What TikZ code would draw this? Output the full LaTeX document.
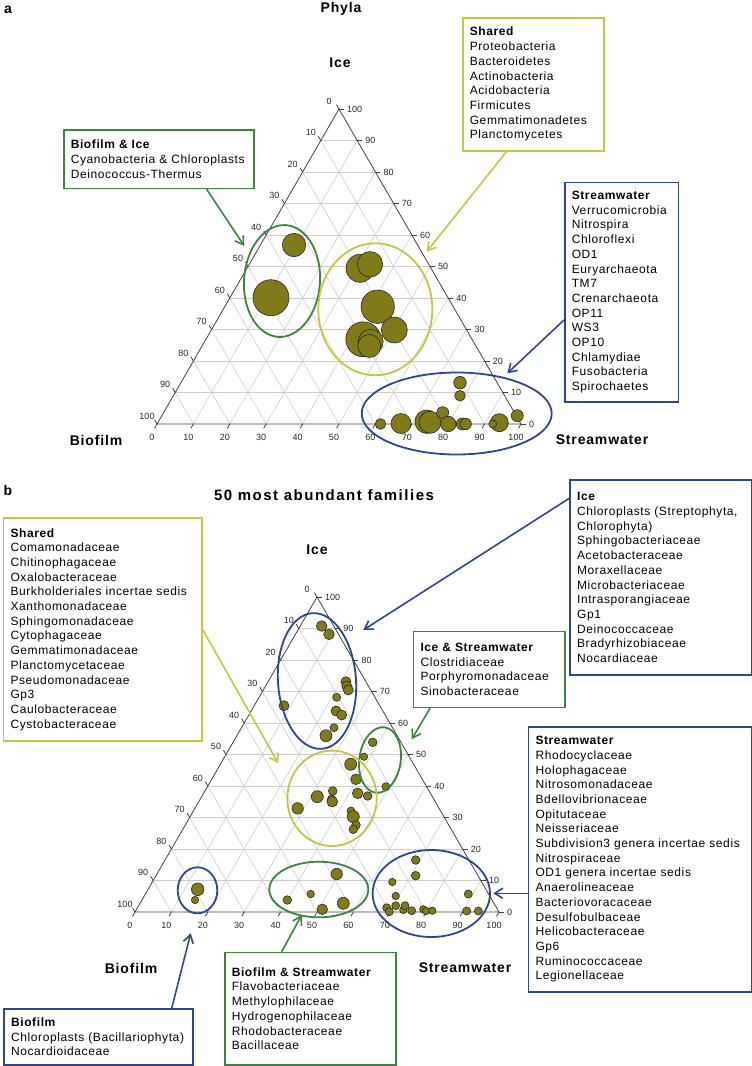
\documentclass[tikz,border=0pt]{standalone}
\usepackage{fontspec}
\setmainfont{Liberation Sans}
\newfontfamily\boxfont[LetterSpace=5]{Liberation Sans}
\newfontfamily\capfont[LetterSpace=6]{Liberation Sans}
\usetikzlibrary{arrows.meta}
\hyphenpenalty=10000

\definecolor{grpgreen}{RGB}{62,132,62}
\definecolor{grpyellow}{RGB}{196,196,70}
\definecolor{grpblue}{RGB}{44,72,140}
\definecolor{bubblefill}{RGB}{128,122,24}

\tikzset{
  gridline/.style={gray!40, line width=0.6pt},
  sideline/.style={black!75, line width=0.8pt},
  ticklbl/.style={font=\fontsize{9}{10}\selectfont, text=black!85, inner sep=0pt},
  axislbl/.style={font=\capfont\bfseries\fontsize{14}{16}\selectfont, inner sep=0pt},
  bubble/.style={draw=black!85, fill=bubblefill, line width=0.6pt},
  grp/.style={draw=#1, line width=1.8pt},
  grpbox/.style={draw=#1, line width=1.6pt, fill=white, align=left, anchor=north west,
    inner xsep=7pt, inner ysep=0pt, font=\boxfont\fontsize{12}{14.7}\selectfont},
  grparrow/.style={draw=#1, line width=1.6pt, -{Straight Barb[length=8pt,width=10pt]}}
}

\begin{document}
\begin{tikzpicture}[x=1pt,y=-1pt]
\useasboundingbox (0,0) rectangle (752,1066);

% titles
\node[axislbl] (pa) at (8,10) {a};
\node[axislbl] (phyla) at (341,9) {Phyla};
\node[axislbl] (labIceA) at (340,63) {Ice};
\node[axislbl] (labBioA) at (96,440) {Biofilm};
\node[axislbl] (labStrA) at (602,440) {Streamwater};
\node[axislbl] (pb) at (8,490) {b};
\node[axislbl, font=\capfont\bfseries\fontsize{15}{18}\selectfont\addfontfeature{LetterSpace=10}] (fam) at (324,495) {50 most abundant families};
\node[axislbl] (labIceB) at (317,550) {Ice};
\node[axislbl] (labBioB) at (131,968) {Biofilm};
\node[axislbl] (labStrB) at (465,968) {Streamwater};

% ternary grids
\foreach \ox/\oy in {157/424, 135/912} {
\begin{scope}[shift={(\ox,\oy)}, x={(3.64pt,0pt)}, y={(1.82pt,3.15pt)}]
  \foreach \k in {10,20,...,90} {
    \draw[gridline] (\k,0) -- (\k,{100-\k});
    \draw[gridline] (0,\k) -- ({100-\k},\k);
    \draw[gridline] ({100-\k},0) -- (0,{100-\k});
  }
  \draw[sideline] (0,0) -- (100,0) -- (0,100) -- cycle;
  \foreach \k in {0,10,...,100} {
    \draw[sideline] (\k,0) -- ++(-2.5pt,-4.3pt);
    \node[ticklbl] at ([shift={(-5pt,-13pt)}]\k,0) {\k};
    \draw[sideline] (0,{100-\k}) -- ++(-2.5pt,4.3pt);
    \node[ticklbl] at ([shift={(-10pt,8pt)}]0,{100-\k}) {\k};
    \draw[sideline] ({100-\k},\k) -- ++(5pt,0pt);
    \node[ticklbl, anchor=west] at ([shift={(8pt,0pt)}]{100-\k},\k) {\k};
  }
\end{scope}
}

% phyla bubbles
\foreach \x/\y/\r in {294/245/11.7, 271/297.7/18,
  360/268.3/14, 370/264.3/12.7, 377.7/306.7/16.7, 363.3/339.3/17.5, 370.7/341.7/12.5, 369.3/346/11.5, 394.3/330/13,
  380.5/424/5.3, 401/423.5/10, 426.7/421.7/11.7, 430/422.3/11, 442.7/412.7/6, 448.3/424/7.7, 462.3/424/6, 465.7/424/5.7,
  460/382.7/6.3, 460/395.7/5.3, 499.3/422.7/9, 492.7/424/4, 517.3/415.7/6}
  \draw[bubble] (\x,\y) circle[radius={\r*1pt}];

% family bubbles
\foreach \x/\y/\r in {321.7/626/5.3, 329/634.3/5.3, 346/681.7/5, 346.7/686/5, 348.3/690/5, 336.7/697.3/4, 336/711/5,
  341.7/715/5, 334/727.7/4, 326/735.7/6, 284/705.7/5,
  372.7/742.3/4.3, 364/756.7/3.7, 386/786.7/4,
  350.7/764.3/6, 356/779.3/5.3, 357.7/793.3/5.3, 367.7/796/4.3, 317.3/796.7/6, 332.7/791/4.3, 331.7/799.3/4.3,
  332.3/801.7/5.3, 297.7/808.3/5.7, 351/811/4, 353.3/816.7/6, 356/825/4.3, 353.3/829.3/4.3,
  197.7/889.3/6.3, 195/900/3.7,
  287.3/900/4.3, 310.7/894/3.7, 336.7/874/5.7, 322.3/909.3/5.3, 343.3/903.3/6,
  415.7/860/4.3, 415.7/875.7/4.3, 392.3/882/3.7, 395.7/896/3.7, 386.7/907.7/4, 389.3/911.7/4, 395.7/905.7/4,
  403.3/910/3.7, 405/905.7/4, 411.7/910.7/4, 423.3/909.3/3.7, 426/911/3.7, 432.3/910.7/3.7,
  468.3/894/4, 466.7/911/4, 478.3/911/4}
  \draw[bubble] (\x,\y) circle[radius={\r*1pt}];

% group outlines
\draw[grp=grpgreen, rotate around={-4:(282,281)}] (282,281) ellipse[x radius=38pt, y radius=56pt];
\draw[grp=grpyellow] (375.3,309.3) ellipse[x radius=57pt, y radius=66pt];
\draw[grp=grpblue] (456.7,413.5) ellipse[x radius=95pt, y radius=41pt];
\draw[grp=grpblue, rotate around={4:(317,681)}] (317,681) ellipse[x radius=39pt, y radius=68pt];
\draw[grp=grpgreen, rotate around={-8:(380,760)}] (380,760) ellipse[x radius=20.7pt, y radius=33pt];
\draw[grp=grpyellow] (332,798.3) ellipse[x radius=44.7pt, y radius=47.7pt];
\draw[grp=grpgreen] (318.8,889.5) ellipse[x radius=49.5pt, y radius=27.8pt];
\draw[grp=grpblue] (431.3,893.5) ellipse[x radius=58.7pt, y radius=43.5pt];
\draw[grp=grpblue] (197.5,890.3) ellipse[x radius=19.8pt, y radius=23pt];

% boxes, panel a
\node[grpbox=grpyellow, text width=127pt, minimum height=133pt] (shA) at (462,17)
  {\textbf{Shared}\\Proteobacteria\\Bacteroidetes\\Actinobacteria\\Acidobacteria\\Firmicutes\\Gemmatimonadetes\\Planctomycetes};
\node[grpbox=grpgreen, text width=176pt, minimum height=58.4pt] (bfiA) at (63,129.3)
  {\textbf{Biofilm \& Ice}\\Cyanobacteria \& Chloroplasts\\Deinococcus-Thermus};
\node[grpbox=grpblue, text width=99.7pt, minimum height=219.3pt] (swA) at (564,181.7)
  {\textbf{Streamwater}\\Verrucomicrobia\\Nitrospira\\Chloroflexi\\OD1\\Euryarchaeota\\TM7\\Crenarchaeota\\OP11\\WS3\\OP10\\Chlamydiae\\Fusobacteria\\Spirochaetes};

% boxes, panel b
\node[grpbox=grpyellow, text width=184.6pt, minimum height=222.7pt] (shB) at (2.7,517.3)
  {\textbf{Shared}\\Comamonadaceae\\Chitinophagaceae\\Oxalobacteraceae\\Burkholderiales incertae sedis\\Xanthomonadaceae\\Sphingomonadaceae\\Cytophagaceae\\Gemmatimonadaceae\\Planctomycetaceae\\Pseudomonadaceae\\Gp3\\Caulobacteraceae\\Cystobacteraceae};
\node[grpbox=grpblue, text width=167.7pt, minimum height=195pt] (iceB) at (569.3,479.3)
  {\textbf{Ice}\\Chloroplasts (Streptophyta,\\Chlorophyta)\\Sphingobacteriaceae\\Acetobacteraceae\\Moraxellaceae\\Microbacteriaceae\\Intrasporangiaceae\\Gp1\\Deinococcaceae\\Bradyrhizobiaceae\\Nocardiaceae};
\node[grpbox=grpgreen, text width=137.6pt, minimum height=76pt] (iswB) at (412.7,630.7)
  {\textbf{Ice \& Streamwater}\\Clostridiaceae\\Porphyromonadaceae\\Sinobacteraceae};
\node[grpbox=grpblue, text width=209pt, minimum height=265pt] (swB) at (527.7,726)
  {\textbf{Streamwater}\\Rhodocyclaceae\\Holophagaceae\\Nitrosomonadaceae\\Bdellovibrionaceae\\Opitutaceae\\Neisseriaceae\\Subdivision3 genera incertae sedis\\Nitrospiraceae\\OD1 genera incertae sedis\\Anaerolineaceae\\Bacteriovoracaceae\\Desulfobulbaceae\\Helicobacteraceae\\Gp6\\Ruminococcaceae\\Legionellaceae};
\node[grpbox=grpblue, text width=175pt, minimum height=55.7pt] (bfB) at (3.3,1008.3)
  {\textbf{Biofilm}\\Chloroplasts (Bacillariophyta)\\Nocardioidaceae};
\node[grpbox=grpgreen, text width=157pt, minimum height=112.3pt] (bswB) at (224,951.7)
  {\textbf{Biofilm \& Streamwater}\\Flavobacteriaceae\\Methylophilaceae\\Hydrogenophilaceae\\Rhodobacteraceae\\Bacillaceae};

% arrows
\coordinate (bfiAtip) at (244.3,246);
\coordinate (shAtip) at (426.7,251.7);
\coordinate (swAtip) at (507.3,373.3);
\coordinate (shBtip) at (278.3,763.3);
\coordinate (iceBtip) at (363.3,630);
\coordinate (iswBtip) at (411.7,739.3);
\coordinate (swBtip) at (493.3,893.3);
\coordinate (bfBtip) at (190.7,933.3);
\coordinate (bswBtip) at (301.7,915);
\draw[grparrow=grpgreen] ([xshift=143.7pt]bfiA.south west) -- (bfiAtip);
\draw[grparrow=grpyellow] ([xshift=44.5pt]shA.south west) -- (shAtip);
\draw[grparrow=grpblue] ([yshift=-138.3pt]swA.north west) -- (swAtip);
\draw[grparrow=grpyellow] ([yshift=-112.7pt]shB.north east) -- (shBtip);
\draw[grparrow=grpblue] ([yshift=-19pt]iceB.north west) -- (iceBtip);
\draw[grparrow=grpgreen] ([xshift=17.3pt]iswB.south west) -- (iswBtip);
\draw[grparrow=grpblue] ([yshift=-167.3pt]swB.north west) -- (swBtip);
\draw[grparrow=grpblue] ([xshift=168.4pt]bfB.north west) -- (bfBtip);
\draw[grparrow=grpgreen] ([xshift=57.7pt]bswB.north west) -- (bswBtip);
\end{tikzpicture}
\end{document}
